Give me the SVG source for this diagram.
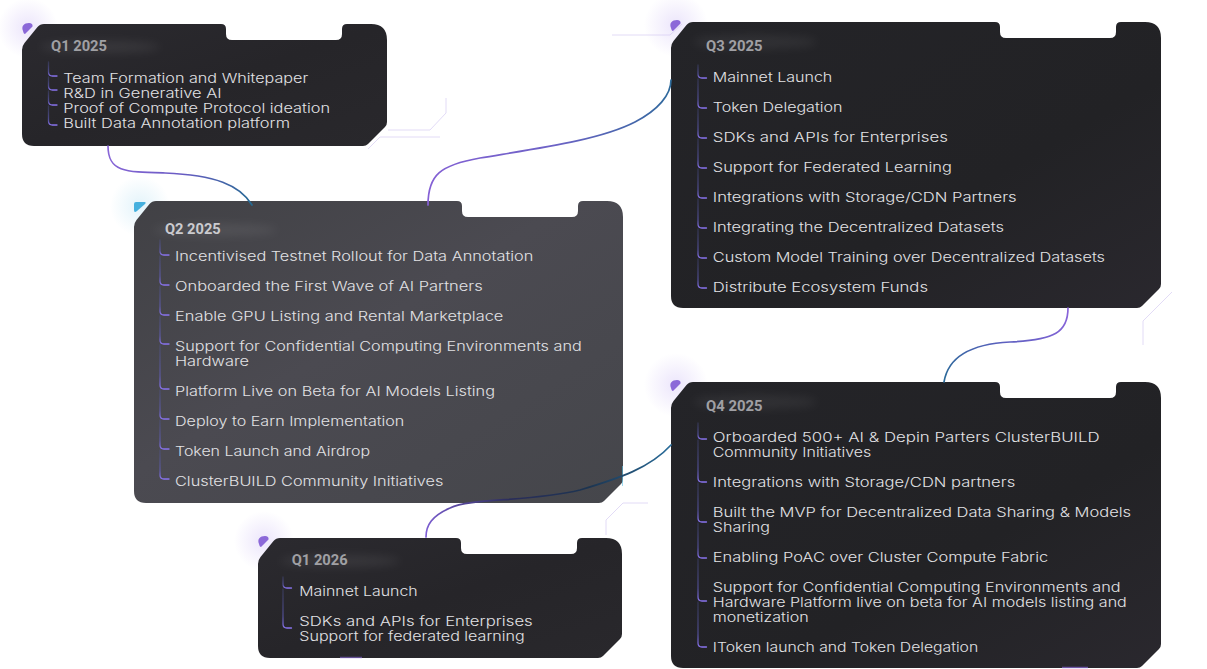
<svg xmlns="http://www.w3.org/2000/svg" width="1207" height="669" viewBox="0 0 1207 669">
<defs>
<style>
.title{font-family:"Roboto","Liberation Sans",sans-serif;font-weight:700;font-size:14px;fill:#a0a0a4}
.title2{fill:#cbcbcf}
.item{font-family:"Inter","Liberation Sans",sans-serif;font-weight:300;font-size:13px;fill:#e2e2e5}
.bul{fill:none;stroke:url(#bulG);stroke-width:1.3;stroke-linecap:round}
.conn{fill:none;stroke-width:1.7;stroke-linecap:round}
.deco{fill:none;stroke:#d6ccf2;stroke-width:1;opacity:.7}
.dot{fill:#8b68d8}
</style>
<linearGradient id="bulG" x1="0" y1="0" x2="0" y2="1">
<stop offset="0" stop-color="#4f5598" stop-opacity=".35"/>
<stop offset="0.7" stop-color="#6460c4" stop-opacity=".65"/>
<stop offset="1" stop-color="#8a74f0"/>
</linearGradient>
<linearGradient id="cardDark" x1="0" y1="0" x2="1" y2="1">
<stop offset="0" stop-color="#2b2a2f"/>
<stop offset="0.5" stop-color="#262529"/>
<stop offset="1" stop-color="#29282c"/>
</linearGradient>
<linearGradient id="cardQ3" x1="0" y1="0" x2="1" y2="1">
<stop offset="0" stop-color="#242428"/>
<stop offset="0.6" stop-color="#222225"/>
<stop offset="1" stop-color="#2a282e"/>
</linearGradient>
<linearGradient id="cardQ2" x1="0" y1="0" x2="1" y2="1">
<stop offset="0" stop-color="#414145"/>
<stop offset="0.45" stop-color="#4b4a51"/>
<stop offset="1" stop-color="#45464b"/>
</linearGradient>
<radialGradient id="glowP">
<stop offset="0" stop-color="#c8b6f4" stop-opacity=".35"/>
<stop offset="1" stop-color="#c8b6f4" stop-opacity="0"/>
</radialGradient>
<radialGradient id="glowC">
<stop offset="0" stop-color="#b9e2f3" stop-opacity=".4"/>
<stop offset="1" stop-color="#b9e2f3" stop-opacity="0"/>
</radialGradient>
<filter id="blur6" x="-50%" y="-200%" width="200%" height="500%"><feGaussianBlur stdDeviation="5"/></filter>
<linearGradient id="c1" gradientUnits="userSpaceOnUse" x1="108" y1="146" x2="252" y2="205">
<stop offset="0" stop-color="#8a66d8"/><stop offset="0.5" stop-color="#6a5cc4"/><stop offset="1" stop-color="#246a92"/>
</linearGradient>
<linearGradient id="c2" gradientUnits="userSpaceOnUse" x1="428" y1="205" x2="671" y2="80">
<stop offset="0" stop-color="#8660d6"/><stop offset="0.5" stop-color="#6d62c6"/><stop offset="1" stop-color="#2c6a9a"/>
</linearGradient>
<linearGradient id="c3" gradientUnits="userSpaceOnUse" x1="1068" y1="308" x2="944" y2="382">
<stop offset="0" stop-color="#8a64da"/><stop offset="0.5" stop-color="#5d60c0"/><stop offset="1" stop-color="#2a6a98"/>
</linearGradient>
<linearGradient id="c4" gradientUnits="userSpaceOnUse" x1="671" y1="445" x2="426" y2="537">
<stop offset="0" stop-color="#2a6e9c"/><stop offset="0.35" stop-color="#1c3450"/><stop offset="0.65" stop-color="#2a2d5a"/><stop offset="1" stop-color="#7f5fd6"/>
</linearGradient>
</defs>

<rect width="1207" height="669" fill="#ffffff"/>

<g id="glows">
<circle cx="28" cy="28" r="30" fill="url(#glowP)"/>
<circle cx="140" cy="206" r="30" fill="url(#glowC)"/>
<circle cx="676" cy="25" r="32" fill="url(#glowP)"/>
<circle cx="676" cy="385" r="32" fill="url(#glowP)"/>
<circle cx="264" cy="541" r="30" fill="url(#glowP)"/>
</g>

<g id="decor">
<path class="deco" d="M368,149 L380,137 L440,137"/>
<path class="deco" d="M388,130 L430,130 L446,113 L446,98" opacity=".45"/>
<path class="deco" d="M612,35 L670,35 L682,24" opacity=".6"/>
<path class="deco" d="M1143,345 L1143,321 L1172,292"/>
<path class="deco" d="M606,535 L606,520 L623,503 L648,503" opacity=".6"/>
</g>

<g id="q1-2025">
<path transform="translate(22,24)" fill="url(#cardDark)" d="M0,26 L0,110 Q0,122 12,122 L341,122 Q344,122 346,120 L363,103 Q365,101 365,98 L365,16 Q365,0 349,0 L325,0 Q320,0 320,5 L320,10 Q320,16 314,16 L210,16 Q204,16 204,10 L204,5 Q204,0 199,0 L22,0 Q18,0 15.5,3 L2.5,19 Q0,22 0,26 Z"/>
<path class="dot" transform="translate(22,23)" d="M1,8 C-1,3 2,0 7,0 C9.5,0 11,1.5 10.5,3.5 L3,11 C2,11 1.5,10 1,8 Z"/>
<ellipse cx="100" cy="47" rx="60" ry="6" fill="#ffffff" opacity=".07" filter="url(#blur6)"/>
<text class="title" x="51" y="51" textLength="56" lengthAdjust="spacingAndGlyphs">Q1 2025</text>
<path class="bul" d="M48.5,62 L48.5,72 Q48.5,76 52.5,76 L57,76"/>
<path class="bul" d="M48.5,77 L48.5,86 Q48.5,90 52.5,90 L57,90"/>
<path class="bul" d="M48.5,91 L48.5,101 Q48.5,105 52.5,105 L57,105"/>
<path class="bul" d="M48.5,106 L48.5,121 Q48.5,125 52.5,125 L57,125"/>
<text class="item" x="63.3" y="83" textLength="245" lengthAdjust="spacingAndGlyphs">Team Formation and Whitepaper</text>
<text class="item" x="63.3" y="98" textLength="158.4" lengthAdjust="spacingAndGlyphs">R&amp;D in Generative AI</text>
<text class="item" x="63.3" y="113" textLength="266.7" lengthAdjust="spacingAndGlyphs">Proof of Compute Protocol ideation</text>
<text class="item" x="63.3" y="128" textLength="226.7" lengthAdjust="spacingAndGlyphs">Built Data Annotation platform</text>
</g>

<g id="q2-2025">
<path transform="translate(134,201)" fill="url(#cardQ2)" d="M0,26 L0,290 Q0,302 12,302 L465,302 Q468,302 470,300 L487,283 Q489,281 489,278 L489,16 Q489,0 473,0 L449,0 Q444,0 444,5 L444,10 Q444,16 438,16 L334,16 Q328,16 328,10 L328,5 Q328,0 323,0 L22,0 Q18,0 15.5,3 L2.5,19 Q0,22 0,26 Z"/>
<path fill="#45b0de" d="M134,204 Q134,202 136,202 L144.5,202 Q146.5,202 145,204 L137,211 Q134,213.5 134,210 Z"/>
<line x1="622.5" y1="466" x2="622.5" y2="486" stroke="#5fc4e8" stroke-width="1" opacity=".6"/>
<ellipse cx="215" cy="230" rx="62" ry="6" fill="#ffffff" opacity=".07" filter="url(#blur6)"/>
<text class="title title2" x="165" y="234" textLength="55.7" lengthAdjust="spacingAndGlyphs">Q2 2025</text>
<path class="bul" d="M160,240 L160,251 Q160,255 164,255 L169,255"/>
<path class="bul" d="M160,256 L160,281 Q160,285 164,285 L169,285"/>
<path class="bul" d="M160,286 L160,311 Q160,315 164,315 L169,315"/>
<path class="bul" d="M160,316 L160,340 Q160,344 164,344 L169,344"/>
<path class="bul" d="M160,345 L160,385 Q160,389 164,389 L169,389"/>
<path class="bul" d="M160,390 L160,415 Q160,419 164,419 L169,419"/>
<path class="bul" d="M160,420 L160,445 Q160,449 164,449 L169,449"/>
<path class="bul" d="M160,450 L160,475 Q160,479 164,479 L169,479"/>
<text class="item" x="175" y="260.5" textLength="358.3" lengthAdjust="spacingAndGlyphs">Incentivised Testnet Rollout for Data Annotation</text>
<text class="item" x="175" y="290.5" textLength="307.7" lengthAdjust="spacingAndGlyphs">Onboarded the First Wave of AI Partners</text>
<text class="item" x="175" y="320.5" textLength="328.3" lengthAdjust="spacingAndGlyphs">Enable GPU Listing and Rental Marketplace</text>
<text class="item" x="175" y="350.5" textLength="406.7" lengthAdjust="spacingAndGlyphs">Support for Confidential Computing Environments and</text>
<text class="item" x="175" y="365.5" textLength="74" lengthAdjust="spacingAndGlyphs">Hardware</text>
<text class="item" x="175" y="395.5" textLength="320" lengthAdjust="spacingAndGlyphs">Platform Live on Beta for AI Models Listing</text>
<text class="item" x="175" y="425.5" textLength="229.3" lengthAdjust="spacingAndGlyphs">Deploy to Earn Implementation</text>
<text class="item" x="175" y="455.5" textLength="195" lengthAdjust="spacingAndGlyphs">Token Launch and Airdrop</text>
<text class="item" x="175" y="485.5" textLength="268.3" lengthAdjust="spacingAndGlyphs">ClusterBUILD Community Initiatives</text>
</g>

<g id="q3-2025">
<path transform="translate(671,22)" fill="url(#cardQ3)" d="M0,26 L0,274 Q0,286 12,286 L466,286 Q469,286 471,284 L488,267 Q490,265 490,262 L490,16 Q490,0 474,0 L450,0 Q445,0 445,5 L445,10 Q445,16 439,16 L335,16 Q329,16 329,10 L329,5 Q329,0 324,0 L22,0 Q18,0 15.5,3 L2.5,19 Q0,22 0,26 Z"/>
<path class="dot" transform="translate(670,20)" d="M1,8 C-1,3 2,0 7,0 C9.5,0 11,1.5 10.5,3.5 L3,11 C2,11 1.5,10 1,8 Z"/>
<ellipse cx="755" cy="42" rx="62" ry="7" fill="#ffffff" opacity=".06" filter="url(#blur6)"/>
<text class="title" x="706" y="51" textLength="56.4" lengthAdjust="spacingAndGlyphs">Q3 2025</text>
<path class="bul" d="M698,65 L698,74 Q698,78 702,78 L706.5,78"/>
<path class="bul" d="M698,79 L698,104 Q698,108 702,108 L706.5,108"/>
<path class="bul" d="M698,109 L698,134 Q698,138 702,138 L706.5,138"/>
<path class="bul" d="M698,139 L698,164 Q698,168 702,168 L706.5,168"/>
<path class="bul" d="M698,169 L698,194 Q698,198 702,198 L706.5,198"/>
<path class="bul" d="M698,199 L698,224 Q698,228 702,228 L706.5,228"/>
<path class="bul" d="M698,229 L698,254 Q698,258 702,258 L706.5,258"/>
<path class="bul" d="M698,259 L698,284 Q698,288 702,288 L706.5,288"/>
<text class="item" x="712.8" y="81.7" textLength="119.5" lengthAdjust="spacingAndGlyphs">Mainnet Launch</text>
<text class="item" x="712.8" y="111.7" textLength="129.6" lengthAdjust="spacingAndGlyphs">Token Delegation</text>
<text class="item" x="712.8" y="141.7" textLength="235.1" lengthAdjust="spacingAndGlyphs">SDKs and APIs for Enterprises</text>
<text class="item" x="712.8" y="171.7" textLength="239" lengthAdjust="spacingAndGlyphs">Support for Federated Learning</text>
<text class="item" x="712.8" y="201.7" textLength="303.9" lengthAdjust="spacingAndGlyphs">Integrations with Storage/CDN Partners</text>
<text class="item" x="712.8" y="231.7" textLength="291.1" lengthAdjust="spacingAndGlyphs">Integrating the Decentralized Datasets</text>
<text class="item" x="712.8" y="261.7" textLength="392.2" lengthAdjust="spacingAndGlyphs">Custom Model Training over Decentralized Datasets</text>
<text class="item" x="712.8" y="291.7" textLength="215.2" lengthAdjust="spacingAndGlyphs">Distribute Ecosystem Funds</text>
</g>

<g id="q4-2025">
<path transform="translate(671,382)" fill="url(#cardQ3)" d="M0,26 L0,274 Q0,286 12,286 L466,286 Q469,286 471,284 L488,267 Q490,265 490,262 L490,16 Q490,0 474,0 L450,0 Q445,0 445,5 L445,10 Q445,16 439,16 L335,16 Q329,16 329,10 L329,5 Q329,0 324,0 L22,0 Q18,0 15.5,3 L2.5,19 Q0,22 0,26 Z"/>
<path class="dot" transform="translate(670,380)" d="M1,8 C-1,3 2,0 7,0 C9.5,0 11,1.5 10.5,3.5 L3,11 C2,11 1.5,10 1,8 Z"/>
<line x1="1062" y1="667.5" x2="1088" y2="667.5" stroke="#8b6ad8" stroke-width="1.5" opacity=".7"/>
<ellipse cx="755" cy="402" rx="62" ry="7" fill="#ffffff" opacity=".06" filter="url(#blur6)"/>
<text class="title" x="706" y="411" textLength="56.4" lengthAdjust="spacingAndGlyphs">Q4 2025</text>
<path class="bul" d="M698,423 L698,435 Q698,439 702,439 L706.5,439"/>
<path class="bul" d="M698,440 L698,478 Q698,482 702,482 L706.5,482"/>
<path class="bul" d="M698,483 L698,518 Q698,522 702,522 L706.5,522"/>
<path class="bul" d="M698,523 L698,554 Q698,558 702,558 L706.5,558"/>
<path class="bul" d="M698,559 L698,597 Q698,601 702,601 L706.5,601"/>
<path class="bul" d="M698,602 L698,643 Q698,647 702,647 L706.5,647"/>
<text class="item" x="712.8" y="441.7" textLength="386.8" lengthAdjust="spacingAndGlyphs">Orboarded 500+ AI &amp; Depin Parters ClusterBUILD</text>
<text class="item" x="712.8" y="456.7" textLength="158.4" lengthAdjust="spacingAndGlyphs">Community Initiatives</text>
<text class="item" x="712.8" y="486.7" textLength="302.4" lengthAdjust="spacingAndGlyphs">Integrations with Storage/CDN partners</text>
<text class="item" x="712.8" y="516.7" textLength="418.3" lengthAdjust="spacingAndGlyphs">Built the MVP for Decentralized Data Sharing &amp; Models</text>
<text class="item" x="712.8" y="531.7" textLength="57.2" lengthAdjust="spacingAndGlyphs">Sharing</text>
<text class="item" x="712.8" y="561.7" textLength="335.4" lengthAdjust="spacingAndGlyphs">Enabling PoAC over Cluster Compute Fabric</text>
<text class="item" x="712.8" y="591.7" textLength="407.8" lengthAdjust="spacingAndGlyphs">Support for Confidential Computing Environments and</text>
<text class="item" x="712.8" y="606.7" textLength="414" lengthAdjust="spacingAndGlyphs">Hardware Platform live on beta for AI models listing and</text>
<text class="item" x="712.8" y="621.7" textLength="95.8" lengthAdjust="spacingAndGlyphs">monetization</text>
<text class="item" x="712.8" y="651.7" textLength="265.4" lengthAdjust="spacingAndGlyphs">IToken launch and Token Delegation</text>
</g>

<g id="q1-2026">
<path transform="translate(258,538)" fill="url(#cardDark)" d="M0,26 L0,108 Q0,120 12,120 L340,120 Q343,120 345,118 L362,101 Q364,99 364,96 L364,16 Q364,0 348,0 L324,0 Q319,0 319,5 L319,10 Q319,16 313,16 L209,16 Q203,16 203,10 L203,5 Q203,0 198,0 L22,0 Q18,0 15.5,3 L2.5,19 Q0,22 0,26 Z"/>
<path class="dot" transform="translate(258,536)" d="M1,8 C-1,3 2,0 7,0 C9.5,0 11,1.5 10.5,3.5 L3,11 C2,11 1.5,10 1,8 Z"/>
<line x1="340" y1="657.5" x2="362" y2="657.5" stroke="#8b6ad8" stroke-width="1.5" opacity=".6"/>
<ellipse cx="340" cy="561" rx="60" ry="6" fill="#ffffff" opacity=".07" filter="url(#blur6)"/>
<text class="title" x="291.7" y="565" textLength="56" lengthAdjust="spacingAndGlyphs">Q1 2026</text>
<path class="bul" d="M283,577 L283,584 Q283,588 287,588 L291.5,588"/>
<path class="bul" d="M283,589 L283,624 Q283,628 287,628 L291.5,628"/>
<text class="item" x="299.3" y="596" textLength="118.4" lengthAdjust="spacingAndGlyphs">Mainnet Launch</text>
<text class="item" x="299.3" y="626" textLength="233.4" lengthAdjust="spacingAndGlyphs">SDKs and APIs for Enterprises</text>
<text class="item" x="299.3" y="641" textLength="225.4" lengthAdjust="spacingAndGlyphs">Support for federated learning</text>
</g>

<g id="connectors">
<path class="conn" stroke="url(#c1)" d="M108,146 C108,172 125,172 165,173 C215,175 240,185 252,205"/>
<path class="conn" stroke="url(#c2)" d="M428,205 C428,175 440,165 480,158 C540,148 600,140 635,122 C658,110 671,95 671,80"/>
<path class="conn" stroke="url(#c3)" d="M1068,308 C1068,332 1055,340 1010,342 C970,344 948,358 944,382"/>
<path class="conn" stroke="url(#c4)" d="M671,445 C650,468 620,478 580,490 C530,502 470,498 450,508 C432,516 426,525 426,537"/>
</g>
</svg>
